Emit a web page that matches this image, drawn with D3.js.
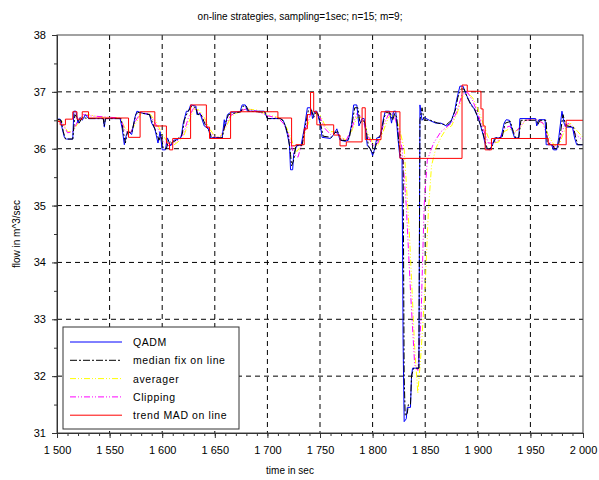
<!DOCTYPE html>
<html>
<head>
<meta charset="utf-8">
<script src="https://cdn.jsdelivr.net/npm/d3@7"></script>
<style>
  body { margin: 0; background: #fff; }
  svg { font-family: "Liberation Sans", Arial, sans-serif; }
</style>
</head>
<body>
<div id="chart"></div>
<script>
// series as [time, flow] pairs
const qadm = [
  [1500,36.52],[1503,36.52],[1505,36.35],[1507,36.2],[1509,36.17],[1515,36.17],[1516,36.66],[1518,36.66],
  [1520,36.45],[1522,36.55],[1524,36.5],[1527,36.6],[1530,36.53],[1544,36.53],[1545,36.38],[1546,36.53],
  [1560,36.53],[1562,36.35],[1564,36.07],[1566,36.25],[1568,36.3],[1571,36.25],[1574,36.55],[1576,36.66],
  [1582,36.62],[1588,36.6],[1590,36.45],[1593,36.35],[1596,36.1],[1598,36.3],[1600,35.98],[1603,35.98],
  [1605,36.19],[1608,36.05],[1611,36.15],[1614,36.16],[1618,36.2],[1620,36.45],[1623,36.66],[1625,36.66],
  [1627,36.77],[1632,36.75],[1633,36.6],[1636,36.62],[1640,36.4],[1644,36.35],[1646,36.19],[1657,36.19],
  [1659,36.51],[1660,36.4],[1662,36.6],[1665,36.64],[1674,36.65],[1676,36.77],[1679,36.77],[1681,36.66],
  [1697,36.66],[1700,36.53],[1712,36.53],[1715,36.5],[1717,36.4],[1719,36.25],[1721,36.06],[1722,35.63],
  [1724,35.63],[1725,35.9],[1728,36.06],[1732,36.06],[1735,36.35],[1738,36.72],[1741,36.72],[1743,36.53],
  [1745,36.66],[1747,36.66],[1750,36.45],[1752,36.2],[1760,36.18],[1763,36.25],[1766,36.35],[1769,36.15],
  [1774,36.13],[1777,36.15],[1780,36.42],[1782,36.77],[1785,36.77],[1787,36.4],[1790,36.53],[1792,36.53],
  [1795,36.05],[1798,36.0],[1800,35.88],[1802,36.0],[1804,36.19],[1807,36.2],[1810,36.5],[1812,36.66],
  [1816,36.66],[1818,36.45],[1820,36.66],[1822,36.66],[1824,36.2],[1826,35.84],[1828,35.83],[1829,32.6],
  [1830,31.2],[1832,31.25],[1833,31.45],[1836,31.45],[1837,32.0],[1838,32.14],[1844,32.14],[1845,36.77],
  [1847,36.5],[1849,36.55],[1854,36.5],[1860,36.45],[1865,36.45],[1870,36.4],[1874,36.45],[1878,36.66],
  [1880,36.87],[1883,37.1],[1886,37.1],[1889,36.95],[1893,36.8],[1896,36.72],[1899,36.6],[1902,36.45],
  [1905,36.25],[1908,36.0],[1911,35.98],[1914,36.07],[1916,36.19],[1922,36.19],[1925,36.45],[1927,36.51],
  [1930,36.5],[1933,36.3],[1935,36.19],[1939,36.19],[1940,36.53],[1955,36.53],[1956,36.4],[1958,36.51],
  [1964,36.51],[1965,36.07],[1970,36.07],[1972,35.98],[1975,35.98],[1977,36.2],[1980,36.66],[1982,36.45],
  [1984,36.38],[1990,36.38],[1992,36.19],[1994,36.07],[2000,36.07]
];

const medianFix = [
  [1500,36.52],[1504,36.5],[1506,36.3],[1508,36.17],[1515,36.17],[1517,36.6],[1519,36.55],[1521,36.45],
  [1524,36.55],[1530,36.53],[1544,36.53],[1545,36.4],[1546,36.53],[1561,36.53],[1563,36.3],[1565,36.1],
  [1567,36.3],[1571,36.28],[1575,36.6],[1577,36.64],[1588,36.6],[1591,36.45],[1594,36.3],[1597,36.15],
  [1599,36.25],[1601,36.0],[1604,36.0],[1606,36.15],[1609,36.1],[1614,36.16],[1619,36.25],[1621,36.5],
  [1624,36.64],[1628,36.75],[1632,36.72],[1634,36.6],[1637,36.6],[1641,36.42],[1645,36.3],[1647,36.19],
  [1657,36.19],[1660,36.45],[1663,36.6],[1675,36.65],[1677,36.75],[1680,36.75],[1682,36.66],[1698,36.64],
  [1700,36.53],[1713,36.53],[1716,36.45],[1718,36.35],[1720,36.2],[1722,35.9],[1723,35.7],[1725,35.8],
  [1727,36.05],[1733,36.06],[1736,36.4],[1739,36.68],[1742,36.68],[1744,36.55],[1746,36.64],[1748,36.62],
  [1751,36.4],[1753,36.22],[1761,36.2],[1764,36.28],[1767,36.3],[1770,36.15],[1775,36.14],[1778,36.2],
  [1781,36.5],[1783,36.72],[1786,36.72],[1788,36.45],[1791,36.5],[1793,36.45],[1796,36.05],[1799,35.95],
  [1801,35.92],[1803,36.05],[1805,36.19],[1808,36.25],[1811,36.55],[1813,36.64],[1817,36.62],[1819,36.5],
  [1821,36.62],[1823,36.55],[1825,36.1],[1827,35.85],[1829,35.8],[1830,32.0],[1831,31.3],[1833,31.35],
  [1834,31.5],[1836,31.5],[1837,32.0],[1839,32.14],[1844,32.14],[1845,36.5],[1847,36.72],[1849,36.5],
  [1855,36.5],[1862,36.45],[1870,36.42],[1875,36.5],[1879,36.7],[1881,36.9],[1884,37.05],[1887,37.05],
  [1890,36.9],[1894,36.75],[1897,36.7],[1900,36.55],[1903,36.4],[1906,36.2],[1909,36.0],[1912,36.0],
  [1915,36.1],[1917,36.19],[1923,36.19],[1926,36.45],[1931,36.48],[1934,36.28],[1936,36.19],[1939,36.2],
  [1941,36.5],[1956,36.5],[1957,36.42],[1959,36.5],[1965,36.5],[1966,36.1],[1971,36.07],[1973,36.0],
  [1976,36.0],[1978,36.2],[1981,36.6],[1983,36.45],[1985,36.4],[1991,36.38],[1993,36.2],[1995,36.07],
  [2000,36.07]
];

const averager = [
  [1500,36.5],[1505,36.48],[1510,36.3],[1515,36.3],[1520,36.45],[1525,36.58],[1530,36.6],[1540,36.56],
  [1560,36.54],[1565,36.35],[1570,36.3],[1575,36.45],[1580,36.62],[1588,36.62],[1595,36.45],[1600,36.25],
  [1605,36.12],[1610,36.05],[1615,36.12],[1620,36.2],[1625,36.45],[1630,36.7],[1635,36.68],[1640,36.55],
  [1645,36.35],[1650,36.22],[1655,36.2],[1660,36.35],[1665,36.55],[1670,36.62],[1680,36.7],[1690,36.68],
  [1700,36.6],[1710,36.55],[1715,36.5],[1720,36.3],[1725,36.05],[1728,35.95],[1732,36.05],[1736,36.3],
  [1740,36.5],[1745,36.62],[1750,36.6],[1755,36.4],[1760,36.3],[1765,36.3],[1770,36.2],[1775,36.15],
  [1780,36.3],[1785,36.55],[1790,36.55],[1795,36.3],[1800,36.1],[1805,36.05],[1810,36.3],[1815,36.55],
  [1820,36.6],[1825,36.4],[1830,36.0],[1835,34.5],[1840,32.5],[1843,31.7],[1846,32.4],[1850,33.6],
  [1853,34.9],[1856,35.7],[1860,36.0],[1865,36.2],[1870,36.35],[1875,36.4],[1880,36.6],[1885,36.9],
  [1890,36.98],[1895,36.9],[1900,36.7],[1905,36.45],[1910,36.2],[1915,36.1],[1920,36.12],[1925,36.3],
  [1930,36.35],[1935,36.3],[1940,36.35],[1945,36.5],[1955,36.52],[1962,36.45],[1968,36.2],[1973,36.05],
  [1978,36.1],[1983,36.35],[1988,36.45],[1995,36.3],[2000,36.2]
];

const clipping = [
  [1500,36.5],[1505,36.45],[1510,36.28],[1515,36.3],[1520,36.5],[1525,36.6],[1530,36.58],[1560,36.54],
  [1565,36.3],[1570,36.28],[1575,36.5],[1580,36.64],[1588,36.6],[1595,36.4],[1600,36.15],[1605,36.05],
  [1610,36.08],[1615,36.15],[1620,36.25],[1625,36.55],[1630,36.72],[1635,36.65],[1640,36.5],[1645,36.3],
  [1650,36.2],[1655,36.2],[1660,36.4],[1665,36.58],[1670,36.64],[1680,36.7],[1690,36.66],[1700,36.58],
  [1710,36.54],[1715,36.45],[1720,36.25],[1725,35.9],[1729,35.85],[1733,36.1],[1737,36.4],[1741,36.6],
  [1745,36.65],[1750,36.55],[1755,36.35],[1760,36.25],[1765,36.3],[1770,36.18],[1775,36.15],[1780,36.35],
  [1785,36.62],[1790,36.55],[1795,36.25],[1800,36.05],[1805,36.1],[1810,36.4],[1815,36.6],[1820,36.62],
  [1825,36.3],[1828,36.0],[1832,35.0],[1836,33.5],[1840,32.2],[1843,32.1],[1846,33.0],[1849,35.0],
  [1852,35.8],[1858,36.1],[1865,36.3],[1875,36.45],[1880,36.65],[1885,36.95],[1890,37.0],[1895,36.85],
  [1900,36.62],[1905,36.35],[1910,36.1],[1915,36.1],[1920,36.15],[1925,36.35],[1930,36.4],[1935,36.28],
  [1940,36.38],[1945,36.5],[1955,36.52],[1962,36.45],[1967,36.15],[1972,36.02],[1977,36.1],[1982,36.4],
  [1987,36.45],[1993,36.25],[2000,36.15]
];

// step values (held until the next time)
const trendMAD = [
  [1500,36.48],[1503,36.42],[1508,36.52],[1515,36.65],[1519,36.52],[1524,36.65],[1530,36.54],[1568,36.2],
  [1579,36.65],[1593,36.4],[1604,36.1],[1607,35.98],[1610,36.18],[1627,36.77],[1642,36.38],[1645,36.18],
  [1665,36.65],[1710,36.54],[1723,36.05],[1727,36.07],[1735,36.35],[1738,36.6],[1741,36.99],[1744,36.65],
  [1747,36.42],[1763,36.24],[1769,36.05],[1775,36.12],[1790,36.72],[1793,36.16],[1808,36.65],[1826,35.83],
  [1885,37.12],[1890,37.01],[1903,36.7],[1905,36.4],[1907,35.98],[1913,36.18],[1967,36.07],[1984,36.5],
  [2000,36.5]
];

const xTicks = d3.range(1500, 2001, 50);
const yTicks = [31, 32, 33, 34, 35, 36, 37, 38];

const legendNames = ['QADM', 'median fix on line', 'averager', 'Clipping', 'trend MAD on line'];

const width = 599, height = 480;
const margin = { top: 35, right: 16, bottom: 47, left: 57 };
const chartWidth = width - margin.left - margin.right;
const chartHeight = height - margin.top - margin.bottom;

const xScale = d3.scaleLinear().domain([1500, 2000]).range([0, chartWidth]);
const yScale = d3.scaleLinear().domain([31, 38]).range([chartHeight, 0]);

const svg = d3.select('#chart').append('svg')
    .attr('width', width)
    .attr('height', height);

svg.append('text')
    .attr('x', 300).attr('y', 20)
    .attr('text-anchor', 'middle')
    .attr('font-size', 10)
    .text('on-line strategies, sampling=1sec; n=15; m=9;');

svg.append('text')
    .attr('transform', `translate(20,${margin.top + chartHeight / 2}) rotate(-90)`)
    .attr('text-anchor', 'middle')
    .attr('font-size', 10)
    .text('flow in m^3/sec');

svg.append('text')
    .attr('x', 290).attr('y', 474)
    .attr('text-anchor', 'middle')
    .attr('font-size', 10)
    .text('time in sec');

const graph = svg.append('g')
    .attr('transform', `translate(${margin.left},${margin.top})`);

// dashed grid
graph.append('g').selectAll('line')
    .data(xTicks.slice(1, -1))
    .enter().append('line')
    .attr('x1', d => xScale(d)).attr('x2', d => xScale(d))
    .attr('y1', 0).attr('y2', chartHeight)
    .attr('stroke', '#000').attr('stroke-dasharray', '5,4');

graph.append('g').selectAll('line')
    .data(yTicks.slice(1, -1))
    .enter().append('line')
    .attr('x1', 0).attr('x2', chartWidth)
    .attr('y1', d => yScale(d)).attr('y2', d => yScale(d))
    .attr('stroke', '#000').attr('stroke-dasharray', '5,4');

graph.append('defs').append('clipPath').attr('id', 'clip')
    .append('rect').attr('width', chartWidth).attr('height', chartHeight);

const plot = graph.append('g').attr('clip-path', 'url(#clip)');

function drawSeries(values, color, dash, curve) {
    const line = d3.line()
        .x(d => xScale(d[0]))
        .y(d => yScale(d[1]))
        .curve(curve || d3.curveLinear);
    plot.append('path')
        .datum(values)
        .attr('fill', 'none')
        .attr('stroke', color)
        .attr('stroke-width', 1)
        .attr('stroke-dasharray', dash)
        .attr('d', line);
}

drawSeries(averager, '#ffff00', '6,2,1,2,1,2');
drawSeries(clipping, '#ff00ff', '6,2,1,2,1,2');
drawSeries(qadm, '#0000ff', null);
drawSeries(medianFix, '#000000', '7,2,2,2');
drawSeries(trendMAD, '#ff0000', null, d3.curveStepAfter);

// frame
graph.append('rect')
    .attr('width', chartWidth).attr('height', chartHeight)
    .attr('fill', 'none').attr('stroke', '#444').attr('stroke-width', 1);

const fmt = d => d3.format(',')(d).replace(',', ' ');

graph.append('g')
    .attr('transform', `translate(0,${chartHeight})`)
    .call(d3.axisBottom(xScale).ticks(50).tickSize(3).tickFormat(''))
    .call(g => g.select('.domain').remove());

const xAxis = graph.append('g')
    .attr('transform', `translate(0,${chartHeight})`)
    .call(d3.axisBottom(xScale).tickValues(xTicks).tickSize(5).tickPadding(8).tickFormat(fmt));
xAxis.selectAll('text').attr('font-size', 11).attr('fill', '#000');

graph.append('g')
    .call(d3.axisLeft(yScale).tickValues(d3.range(31, 38.01, 0.5)).tickSize(3).tickFormat(''))
    .call(g => g.select('.domain').remove());

const yAxis = graph.append('g')
    .call(d3.axisLeft(yScale).tickValues(yTicks).tickSize(5).tickPadding(6).tickFormat(d3.format('d')));
yAxis.selectAll('text').attr('font-size', 11).attr('fill', '#000');

graph.selectAll('.domain, .tick line').attr('stroke', '#333');

// legend
const legend = svg.append('g').attr('transform', 'translate(63,327)');
legend.append('rect')
    .attr('width', 176).attr('height', 102)
    .attr('fill', '#fff').attr('stroke', '#333');

const legendColors = ['#0000ff', '#000000', '#ffff00', '#ff00ff', '#ff0000'];
const legendDash = [null, '7,2,2,2', '6,2,1,2,1,2', '6,2,1,2,1,2', null];

const rows = legend.selectAll('g.row')
    .data(legendNames)
    .enter().append('g')
    .attr('class', 'row')
    .attr('transform', (d, i) => `translate(0,${15 + i * 18.3})`);

rows.append('line')
    .attr('x1', 7).attr('x2', 59)
    .attr('stroke', (d, i) => legendColors[i])
    .attr('stroke-dasharray', (d, i) => legendDash[i]);

rows.append('text')
    .attr('x', 70).attr('y', 4)
    .attr('font-size', 10.5)
    .attr('letter-spacing', 0.6)
    .text(d => d);
</script>
</body>
</html>
